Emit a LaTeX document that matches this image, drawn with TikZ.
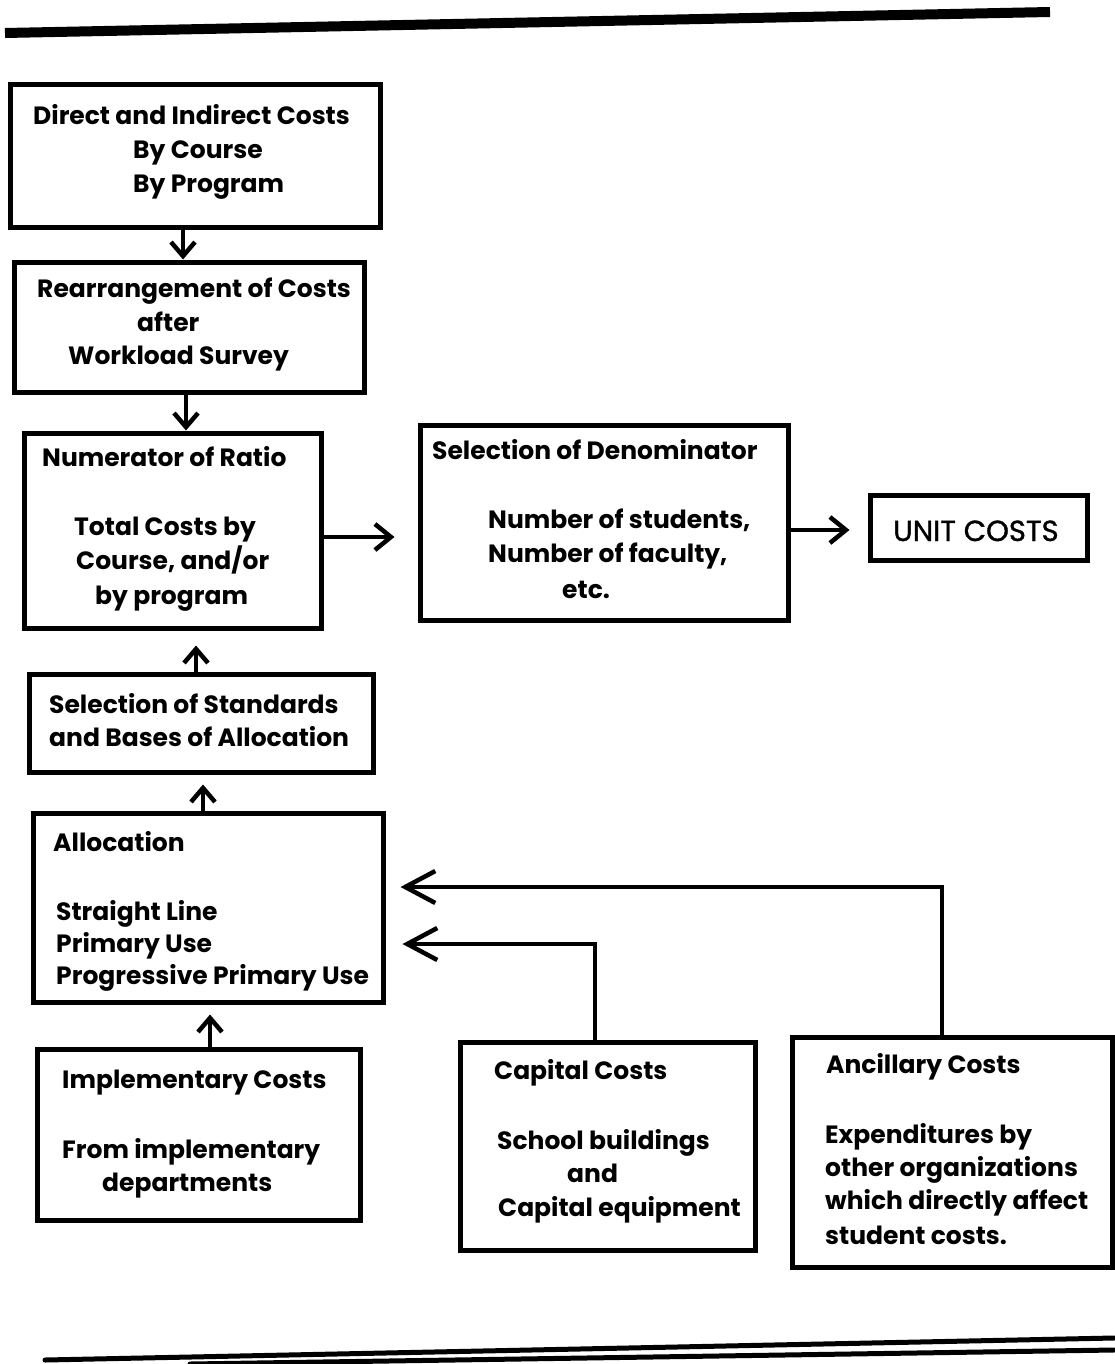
\documentclass[tikz,border=0pt]{standalone}
\usepackage{fontspec}
\setmainfont{Poppins}
\usetikzlibrary{arrows.meta,fit,calc}
\begin{document}
\begin{tikzpicture}[x=1pt,y=-1pt,
  box/.style={draw, line width=5pt, inner sep=0pt, rectangle},
  txt/.style={anchor=base west, inner sep=0pt, font=\bfseries\fontsize{25}{30}\selectfont},
  conn/.style={line width=4.5pt, line join=miter},
  arrv/.style={conn, -{Straight Barb[length=14pt,width=24pt]}},
  arrh/.style={conn, -{Straight Barb[length=16pt,width=26pt]}},
  arrl/.style={conn, -{Straight Barb[length=30pt,width=32pt]}}]
\useasboundingbox (0,0) rectangle (1114,1364);
% rules
\draw[line width=10pt] (5,33) -- (1050,12);
\draw[line width=5pt, line cap=round] (45,1360) -- (1114,1338);
\draw[line width=5pt, line cap=round] (190,1364) -- (1114,1350);
% boxes
\node[box, fit={(10,85) (380,228)}] (b1) {};
\node[box, fit={(14,262) (364,392)}] (b2) {};
\node[box, fit={(24,433) (321,628)}] (b3) {};
\node[box, fit={(420,425) (788,620)}] (b4) {};
\node[box, fit={(870,495) (1087,560)}] (b5) {};
\node[box, fit={(29,674) (373,772)}] (b6) {};
\node[box, fit={(33,813) (383,1002)}] (b7) {};
\node[box, fit={(37,1049) (360,1220)}] (b8) {};
\node[box, fit={(460,1042) (755,1250)}] (b9) {};
\node[box, fit={(792,1037) (1112,1267)}] (b10) {};
% texts
\node[txt] (t1a) at (33,125) {Direct and Indirect Costs};
\node[txt] (t1b) at (133,159) {By Course};
\node[txt] (t1c) at (133,193) {By Program};
\node[txt] (t2a) at (37,297) {Rearrangement of Costs};
\node[txt] (t2b) at (137,331) {after};
\node[txt] (t2c) at (68,364) {Workload Survey};
\node[txt] (t3a) at (42,466) {Numerator of Ratio};
\node[txt] (t3b) at (74,535) {Total Costs by};
\node[txt] (t3c) at (76,569) {Course, and/or};
\node[txt] (t3d) at (95,604) {by program};
\node[txt] (t4a) at (432,459) {Selection of Denominator};
\node[txt] (t4b) at (488,528) {Number of students,};
\node[txt] (t4c) at (488,562) {Number of faculty,};
\node[txt] (t4d) at (562,598) {etc.};
\node[txt, font=\fontsize{29}{32}\selectfont\addfontfeatures{FakeBold=1.2}] (t5) at (893,541) {UNIT COSTS};
\node[txt] (t6a) at (49,713) {Selection of Standards};
\node[txt] (t6b) at (49,746) {and Bases of Allocation};
\node[txt] (t7a) at (53,851) {Allocation};
\node[txt] (t7b) at (56,920) {Straight Line};
\node[txt] (t7c) at (56,952) {Primary Use};
\node[txt] (t7d) at (56,984) {Progressive Primary Use};
\node[txt] (t8a) at (62,1088) {Implementary Costs};
\node[txt] (t8b) at (62,1158) {From implementary};
\node[txt] (t8c) at (102,1191) {departments};
\node[txt] (t9a) at (494,1079) {Capital Costs};
\node[txt] (t9b) at (497,1149) {School buildings};
\node[txt] (t9c) at (567,1182) {and};
\node[txt] (t9d) at (498,1216) {Capital equipment};
\node[txt] (t10a) at (826,1073) {Ancillary Costs};
\node[txt] (t10b) at (825,1143) {Expenditures by};
\node[txt] (t10c) at (825,1176) {other organizations};
\node[txt] (t10d) at (825,1209) {which directly affect};
\node[txt] (t10e) at (825,1244) {student costs.};
% connectors
\draw[arrv] ([xshift=-12pt]b1.south) -- ([xshift=-12pt]b1.south |- b2.north);
\draw[arrv] ([xshift=-3pt]b2.south) -- ([xshift=-3pt]b2.south |- b3.north);
\draw[arrh, shorten >=23pt] ([yshift=-6.5pt]b3.east) -- ([yshift=-6.5pt]b3.east -| b4.west);
\draw[arrh, shorten >=18pt] ([yshift=-7.5pt]b4.east) -- ([yshift=-7.5pt]b4.east -| b5.west);
\draw[arrv, shorten >=15pt] ([xshift=-5pt]b6.north) -- ([xshift=-5pt]b6.north |- b3.south);
\draw[arrv, shorten >=10pt] ([xshift=-5pt]b7.north) -- ([xshift=-5pt]b7.north |- b6.south);
\draw[arrv, shorten >=10pt] ([xshift=11.5pt]b8.north) -- ([xshift=11.5pt]b8.north |- b7.south);
\draw[arrl, shorten >=17pt] ([xshift=-12.5pt]b9.north) |- ([yshift=-36.5pt]b7.east);
\draw[arrl, shorten >=15pt] ([xshift=-10pt]b10.north) |- ([yshift=20.5pt]b7.east);
\end{tikzpicture}
\end{document}
